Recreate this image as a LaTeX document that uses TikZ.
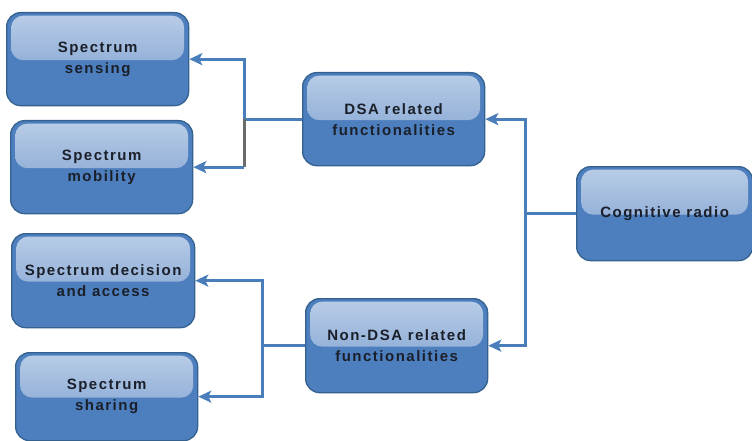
\documentclass[tikz,border=0pt]{standalone}
\usepackage{fontspec}
\setmainfont{Liberation Sans}[LetterSpace=10]
\usetikzlibrary{arrows.meta,calc}
\definecolor{boxfill}{HTML}{4D7FBE}
\definecolor{boxline}{HTML}{35618F}
\definecolor{hltop}{HTML}{B9CDE7}
\definecolor{hlbot}{HTML}{7499CD}
\definecolor{txt}{HTML}{1A1F29}
\definecolor{conncol}{HTML}{4A7EBB}
\definecolor{graycol}{HTML}{6B6B6B}
\tikzset{
  gloss/.style={draw=boxline, line width=1.3pt, fill=boxfill, rounded corners=14pt,
    anchor=north west, inner sep=0pt, align=center, text=txt,
    font=\bfseries\fontsize{15}{21}\selectfont,
    path picture={
      \fill[top color=hltop, bottom color=hlbot, rounded corners=12pt]
        ($(path picture bounding box.north west)+(4.5pt,-3pt)$) rectangle
        ($(path picture bounding box.east)+(-4.5pt,-1pt)$);
    }},
  conn/.style={draw=conncol, line width=3pt},
  arr/.style={conn, -{Stealth[length=13pt,width=12pt,inset=3pt]}},
}
\begin{document}
\begin{tikzpicture}[x=1pt,y=-1pt]
\useasboundingbox (0,0) rectangle (752,441);
\node[gloss, minimum width=182pt, minimum height=93pt] (ss) at (6,12) {Spectrum\\sensing};
\node[gloss, minimum width=182pt, minimum height=93pt] (sm) at (10,120) {Spectrum\\mobility};
\node[gloss, minimum width=183pt, minimum height=94pt] (sd) at (11,233) {Spectrum decision\\and access};
\node[gloss, minimum width=182pt, minimum height=88pt] (sh) at (15,352) {Spectrum\\sharing};
\node[gloss, minimum width=182pt, minimum height=93pt] (dsa) at (302,72) {DSA related\\functionalities};
\node[gloss, minimum width=182pt, minimum height=94pt] (non) at (305,298) {Non-DSA related\\functionalities};
\node[gloss, minimum width=176pt, minimum height=94pt] (cr) at (576,166) {Cognitive radio};
% DSA branch
\draw[conn] (dsa.west) -- ++(-58,0) coordinate (j1);
\draw[arr] (j1) |- (ss.east);
\draw[draw=graycol, line width=3pt] (j1) -- (j1 |- sm.east);
\draw[arr] (j1 |- sm.east) -- (sm.east);
% Cognitive radio branch
\draw[conn] (cr.west) -- ++(-51,0) coordinate (j2);
\draw[arr] (j2) |- (dsa.east);
\draw[arr] (j2) |- (non.east);
% Non-DSA branch
\draw[conn] (non.west) -- ++(-43,0) coordinate (j3);
\draw[arr] (j3) |- (sd.east);
\draw[arr] (j3) |- (sh.east);
\end{tikzpicture}
\end{document}
